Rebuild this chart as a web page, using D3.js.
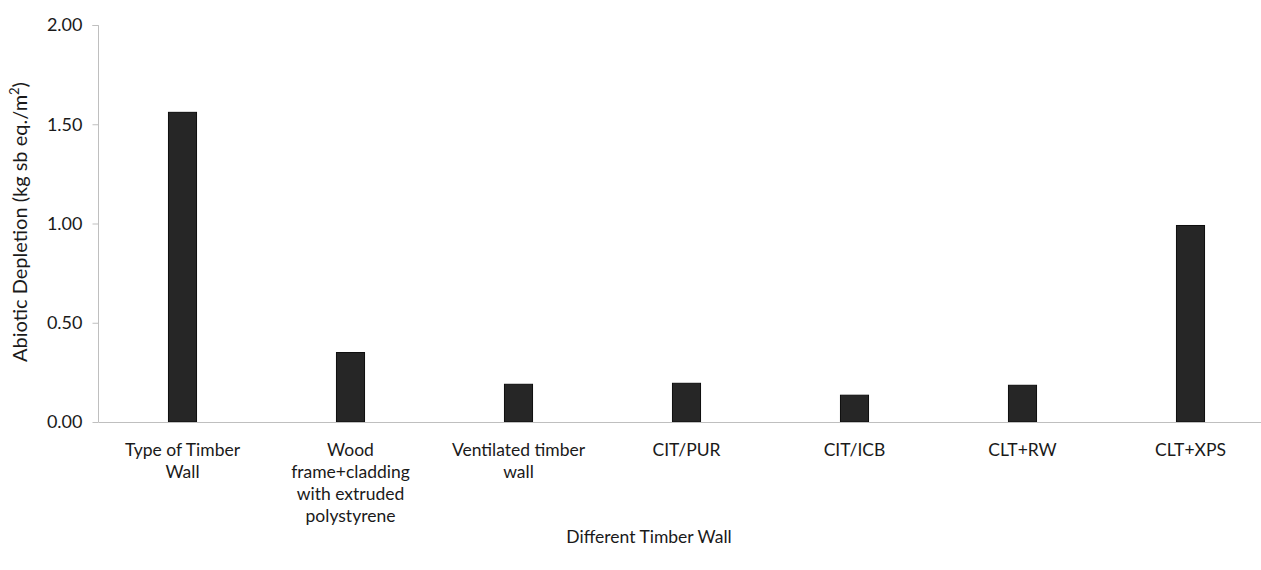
<!DOCTYPE html>
<html><head><meta charset="utf-8">
<script src="https://cdn.jsdelivr.net/npm/d3@7"></script>
<style>body{margin:0;background:#fff}svg{display:block}text{font-family:Lato,"Open Sans",sans-serif;fill:#1a1a1a}</style>
</head><body><svg id="c" width="1261" height="570"></svg>
<script>
const categories = ["Type of Timber Wall","Wood frame+cladding with extruded polystyrene","Ventilated timber wall","CIT/PUR","CIT/ICB","CLT+RW","CLT+XPS"];
const labelLines = [["Type of Timber","Wall"],["Wood","frame+cladding","with extruded","polystyrene"],["Ventilated timber","wall"],["CIT/PUR"],["CIT/ICB"],["CLT+RW"],["CLT+XPS"]];
const values = [1.56, 0.35, 0.19, 0.195, 0.135, 0.185, 0.99];
const yTicks = [0, 0.5, 1.0, 1.5, 2.0];

const svg = d3.select("#c");
const x = d3.scaleBand().domain(categories).range([98.5, 1274.5]).paddingInner(0.827).paddingOuter(0.4135);
const y = d3.scaleLinear().domain([0, 2]).range([422, 25]);

// y axis
const ya = svg.append("g").attr("transform","translate(98.5,0)")
  .call(d3.axisLeft(y).tickValues(yTicks).tickFormat(d3.format(".2f")).tickSize(6).tickPadding(10));
ya.select(".domain").attr("stroke","#bfbfbf").attr("d","M-6,25.5H0V422");
ya.selectAll(".tick line").attr("stroke","#bfbfbf");
ya.selectAll(".tick text").style("font-size","18px").attr("fill","#1a1a1a");

// bars
svg.append("g").selectAll("rect").data(values).join("rect")
  .attr("x",(d,i)=>x(categories[i])+0.5)
  .attr("y",d=>y(d))
  .attr("width",x.bandwidth()-1)
  .attr("height",d=>y(0)-y(d))
  .attr("fill","#262626").attr("stroke","#0d0d0d").attr("stroke-width",1);

// x axis line
svg.append("line").attr("x1",98.5).attr("x2",1261).attr("y1",422.5).attr("y2",422.5)
  .attr("stroke","#bfbfbf").attr("stroke-width",1.2);

// x labels
const xl = svg.append("g");
categories.forEach((c,i)=>{
  const cx = x(c)+x.bandwidth()/2;
  const t = xl.append("text").attr("text-anchor","middle").style("font-size","17.5px")
    .attr("x", cx).attr("y", 456);
  labelLines[i].forEach((ln,j)=>t.append("tspan").attr("x",cx).attr("dy", j?22:0).text(ln));
});

// axis titles
svg.append("text").attr("x",649).attr("y",543).attr("text-anchor","middle").style("font-size","17.5px").text("Different Timber Wall");
const yt = svg.append("text").attr("transform","translate(27,222) rotate(-90)").attr("text-anchor","middle").style("font-size","20px");
yt.append("tspan").text("Abiotic Depletion (kg sb eq./m");
yt.append("tspan").attr("dy",-8).style("font-size","13px").text("2");
yt.append("tspan").attr("dy",8).text(")");
</script></body></html>
